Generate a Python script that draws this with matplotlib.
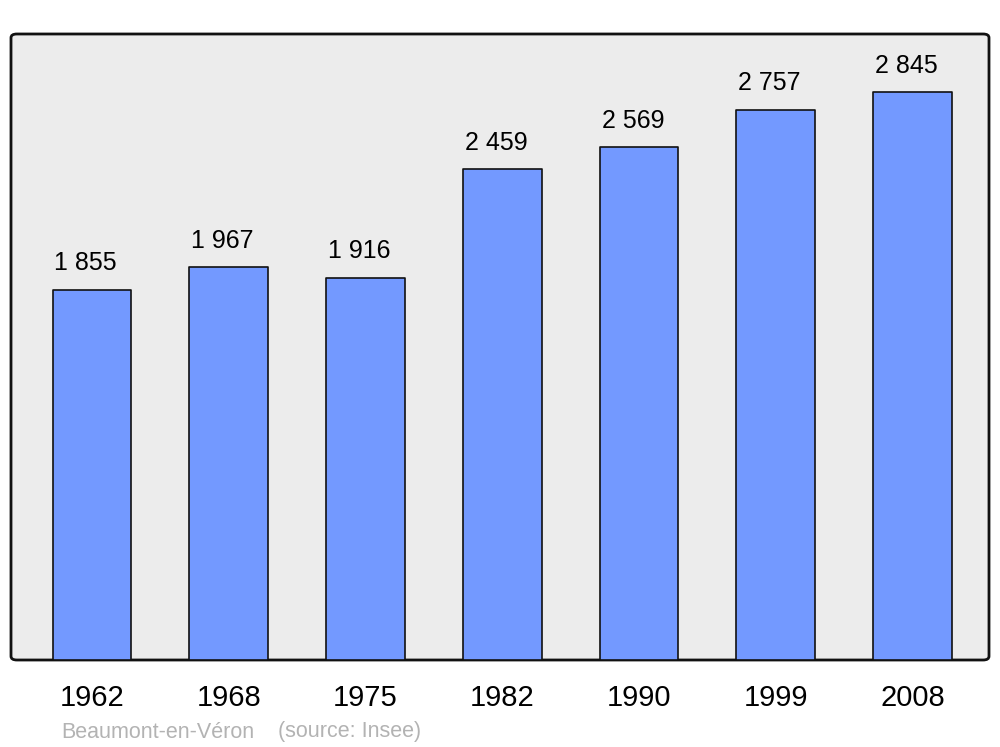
import matplotlib.pyplot as plt
from matplotlib.patches import FancyBboxPatch

plt.rcParams['font.family'] = ['Liberation Sans', 'DejaVu Sans']

# données
annees = ['1962', '1968', '1975', '1982', '1990', '1999', '2008']
population = [1855, 1967, 1916, 2459, 2569, 2757, 2845]
etiquettes = ['1 855', '1 967', '1 916', '2 459', '2 569', '2 757', '2 845']

fig = plt.figure(figsize=(10, 7.47), dpi=100)
ax = fig.add_axes([0.011, 87 / 747, 0.978, 626 / 747])
ax.set_facecolor('none')

# fond gris avec coins arrondis
fond = FancyBboxPatch((0, 0), 1, 1, boxstyle='round,pad=0,rounding_size=0.006',
                      transform=ax.transAxes, facecolor='#ececec',
                      edgecolor='#111111', linewidth=2, zorder=0, clip_on=False)
ax.add_patch(fond)

x = range(len(annees))
ax.bar(x, population, width=0.575, color='#7399ff', edgecolor='#111111',
       linewidth=1.2, zorder=2, joinstyle='round')

for i, (v, t) in enumerate(zip(population, etiquettes)):
    ax.annotate(t, xy=(i, v), xytext=(-4.5, 19), textcoords='offset points',
                ha='center', va='center', fontsize=18)

ax.set_xlim(-0.592, 6.559)
ax.set_ylim(0, 3136)
ax.set_xticks(list(x))
ax.set_xticklabels(annees, fontsize=21)
ax.tick_params(axis='x', length=0, pad=17)
ax.set_yticks([])
for s in ax.spines.values():
    s.set_visible(False)

fig.text(0.061, 1 - 732 / 747, 'Beaumont-en-Véron', color='#b3b3b3',
         fontsize=15.5, va='center', ha='left')
fig.text(0.278, 1 - 732 / 747, '(source: Insee)', color='#b3b3b3',
         fontsize=15.5, va='center', ha='left')

fig.savefig('out.png', dpi=100)
